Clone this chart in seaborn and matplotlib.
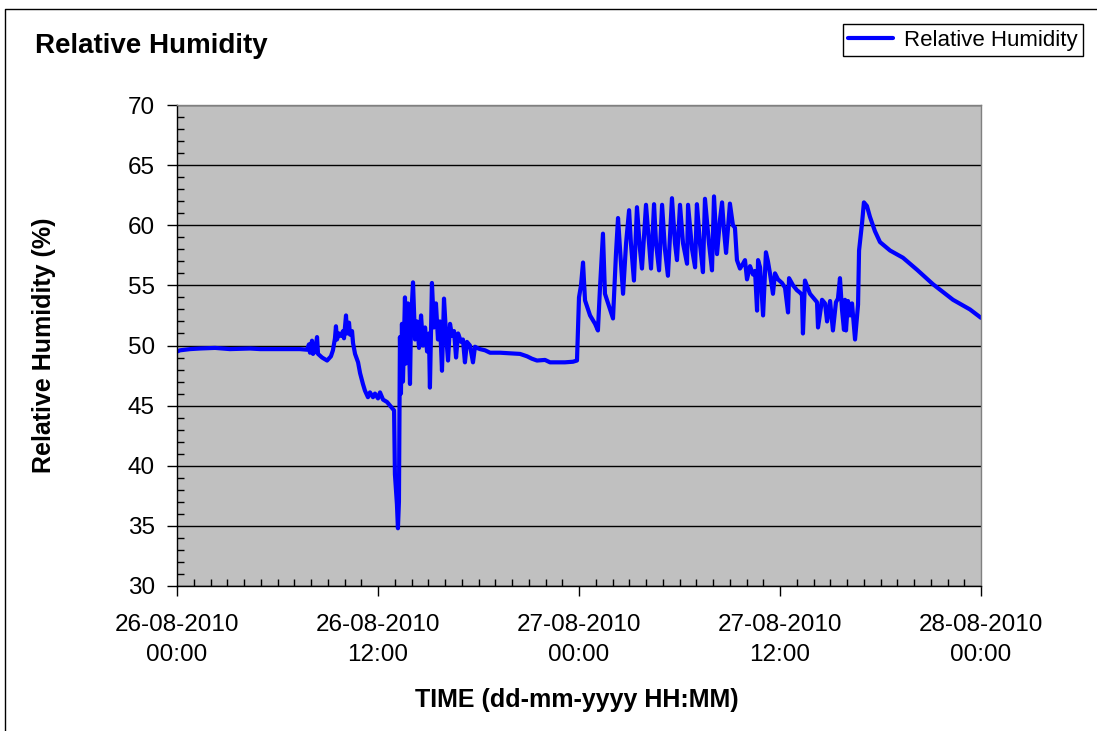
"""Relative humidity logger trace, 26-28 Aug 2010"""

import numpy as np
import pandas as pd
import matplotlib
matplotlib.use('Agg')
import matplotlib.pyplot as plt
import matplotlib.dates as mdates
from matplotlib.ticker import MultipleLocator
from matplotlib.lines import Line2D
import seaborn as sns

# hours since 26-08-2010 00:00
hours = [0.00, 0.18, 0.78, 1.37, 2.27, 3.16, 4.36, 4.96, 6.15, 7.34, 7.76, 7.88,
         7.94, 8.06, 8.12, 8.24, 8.36, 8.42, 8.66, 8.96, 9.19, 9.31, 9.43, 9.49,
         9.55, 9.67, 9.79, 9.91, 9.97, 10.09, 10.15, 10.27, 10.33, 10.45, 10.51,
         10.63, 10.81, 10.93, 11.10, 11.22, 11.40, 11.52, 11.70, 11.82, 12.00,
         12.12, 12.30, 12.54, 12.72, 12.84, 12.96, 13.01, 13.07, 13.13, 13.19,
         13.25, 13.31, 13.37, 13.43, 13.49, 13.61, 13.67, 13.79, 13.91, 13.97,
         14.09, 14.21, 14.33, 14.45, 14.57, 14.69, 14.81, 14.93, 15.04, 15.10,
         15.22, 15.34, 15.46, 15.58, 15.70, 15.82, 15.94, 16.06, 16.18, 16.30,
         16.42, 16.54, 16.66, 16.78, 16.96, 17.07, 17.19, 17.31, 17.49, 17.67,
         17.79, 17.91, 18.09, 18.39, 18.69, 19.28, 19.88, 20.48, 20.90, 21.19,
         21.49, 21.97, 22.27, 22.69, 23.16, 23.64, 23.88, 24.00, 24.12, 24.24,
         24.36, 24.66, 24.96, 25.13, 25.25, 25.37, 25.43, 25.55, 25.85, 26.03,
         26.21, 26.33, 26.45, 26.63, 26.81, 26.99, 27.10, 27.28, 27.46, 27.64,
         27.76, 28.00, 28.18, 28.30, 28.48, 28.60, 28.78, 28.96, 29.13, 29.31,
         29.55, 29.73, 29.85, 30.03, 30.21, 30.45, 30.51, 30.75, 30.93, 31.04,
         31.22, 31.40, 31.52, 31.76, 31.94, 32.06, 32.24, 32.42, 32.54, 32.66,
         32.78, 33.01, 33.19, 33.31, 33.43, 33.61, 33.79, 33.91, 34.03, 34.21,
         34.39, 34.51, 34.63, 34.69, 34.81, 34.99, 35.16, 35.28, 35.40, 35.58,
         35.70, 35.88, 36.12, 36.30, 36.48, 36.54, 36.78, 37.01, 37.19, 37.31,
         37.37, 37.49, 37.79, 38.03, 38.21, 38.27, 38.51, 38.69, 38.81, 38.99,
         39.16, 39.34, 39.46, 39.58, 39.70, 39.82, 39.88, 39.94, 40.06, 40.18,
         40.30, 40.48, 40.66, 40.72, 40.90, 41.01, 41.19, 41.37, 41.67, 41.97,
         42.57, 43.34, 44.18, 45.13, 46.33, 47.34, 48.00]

rh = [49.5, 49.6, 49.7, 49.75, 49.8, 49.7, 49.75, 49.7, 49.7, 49.7, 49.65, 50.1,
      49.4, 50.4, 49.3, 49.5, 50.7, 49.3, 49.0, 48.75, 49.1, 49.6, 50.6, 51.6,
      50.5, 51.0, 50.8, 51.2, 50.6, 52.5, 51.0, 51.9, 50.9, 51.2, 50.2,
      49.3, 48.6, 47.7, 46.8, 46.25, 45.7, 46.1, 45.7, 46.0, 45.6,
      46.1, 45.5, 45.3, 45.0, 44.8, 44.6, 39.3, 38.0, 36.8, 34.8,
      37.0, 50.7, 46.0, 51.8, 47.0, 54.0, 48.5, 53.5, 46.8, 52.0,
      55.25, 50.5, 52.0, 49.8, 52.5, 50.0, 51.5, 49.5, 51.0, 46.5,
      55.2, 51.5, 53.5, 50.5, 52.0, 47.9, 53.9, 51.0, 48.75, 51.8,
      50.8, 51.2, 49.0, 51.0, 50.3, 50.5, 48.6, 50.3, 50.0, 48.6,
      49.9, 49.8, 49.7, 49.6, 49.4, 49.4, 49.35, 49.3, 49.1, 48.9,
      48.75, 48.8, 48.6, 48.6, 48.6, 48.65, 48.75, 54.0, 55.0, 56.9,
      53.75, 52.5, 51.8, 51.25, 54.7, 57.7, 59.3, 54.3, 53.0, 52.25,
      57.7, 60.6, 58.0, 54.3, 58.5, 61.25, 58.5, 55.4, 61.5, 58.0,
      56.4, 61.7, 58.5, 56.4, 61.75, 58.5, 56.25, 61.7, 58.0, 55.8,
      62.25, 58.5, 57.1, 61.7, 58.5, 56.8, 61.7, 58.0, 56.5, 61.75,
      58.5, 56.1, 62.2, 58.5, 56.25, 62.4, 57.6, 60.5, 61.9, 59.5,
      57.7, 61.8, 60.0, 59.8, 57.1, 56.4, 56.8, 57.1, 55.5, 56.6,
      55.9, 56.2, 52.9, 57.1, 56.5, 52.5, 57.75, 57.0, 56.0, 54.3,
      56.0, 55.5, 55.2, 54.8, 52.75, 55.6, 55.0, 54.6, 54.4, 54.2,
      51.0, 55.4, 54.3, 53.9, 53.6, 51.5, 53.8, 53.5, 52.0, 53.7,
      51.25, 53.6, 53.9, 55.6, 53.0, 51.3, 53.8, 51.25, 53.7, 52.5,
      53.5, 50.5, 53.4, 57.9, 60.2, 61.9, 61.6, 60.7, 59.5, 58.6,
      57.9, 57.3, 56.3, 55.1, 53.8, 53.0, 52.3]

start = pd.Timestamp('2010-08-26 00:00')
df = pd.DataFrame({'time': start + pd.to_timedelta(hours, unit='h'), 'rh': rh})

sns.set_style('white')
plt.rcParams['font.family'] = ['Liberation Sans', 'DejaVu Sans']
plt.rcParams['text.color'] = 'black'
plt.rcParams['axes.labelcolor'] = 'black'

fig = plt.figure(figsize=(10.97, 7.31), dpi=100)
ax = fig.add_axes([177 / 1097, 1 - 586 / 731, 804 / 1097, 481 / 731])
ax.set_facecolor('#C0C0C0')

sns.lineplot(data=df, x='time', y='rh', ax=ax, color='#0000FF', lw=3.0,
             label='Relative Humidity')

ax.set_xlim(start, start + pd.Timedelta(hours=48))
ax.set_ylim(30, 70)
ax.xaxis.set_major_locator(mdates.HourLocator(byhour=[0, 12]))
ax.xaxis.set_minor_locator(mdates.HourLocator())
ax.xaxis.set_major_formatter(mdates.DateFormatter('%d-%m-%Y\n%H:%M'))
ax.yaxis.set_major_locator(MultipleLocator(5))
ax.yaxis.set_minor_locator(MultipleLocator(1))

ax.tick_params(which='both', bottom=True, left=True, top=False, right=False)
ax.tick_params(which='major', direction='out', length=7, width=1, color='black',
               labelsize=17.5, labelcolor='black')
ax.tick_params(axis='x', which='major', pad=13)
ax.tick_params(axis='y', which='major', pad=9)
ax.tick_params(which='minor', direction='in', length=5, width=1, color='black')
for lbl in ax.get_xticklabels():
    lbl.set_linespacing(1.5)

ax.yaxis.grid(True, color='black', lw=1)
ax.xaxis.grid(False)
ax.set_axisbelow(True)
for side in ['left', 'bottom']:
    ax.spines[side].set_color('black')
    ax.spines[side].set_linewidth(1)
for side in ['top', 'right']:
    ax.spines[side].set_color('#808080')
    ax.spines[side].set_linewidth(1)

ax.set_xlabel('TIME (dd-mm-yyyy HH:MM)', fontsize=18, fontweight='bold')
ax.set_ylabel('Relative Humidity (%)', fontsize=18, fontweight='bold')
ax.xaxis.set_label_coords(0.4975, -0.213)
ax.yaxis.set_label_coords(-0.150, 0.5)

fig.text(35 / 1097, 1 - 46 / 731, 'Relative Humidity', fontsize=20,
         fontweight='bold', ha='left', va='center')

ax.legend(loc='upper right', bbox_to_anchor=(1083 / 1097, 1 - 24 / 731),
          bbox_transform=fig.transFigure, frameon=True, fancybox=False,
          edgecolor='black', framealpha=1, fontsize=16, handlelength=2.0,
          borderpad=0.25, borderaxespad=0, handletextpad=0.5)

# outer chart-area border (top and left edges visible)
fig.add_artist(Line2D([5 / 1097, 5 / 1097, 1], [0, 1 - 9 / 731, 1 - 9 / 731],
                      transform=fig.transFigure, color='black', lw=1))

fig.savefig('out.png', dpi=100)
